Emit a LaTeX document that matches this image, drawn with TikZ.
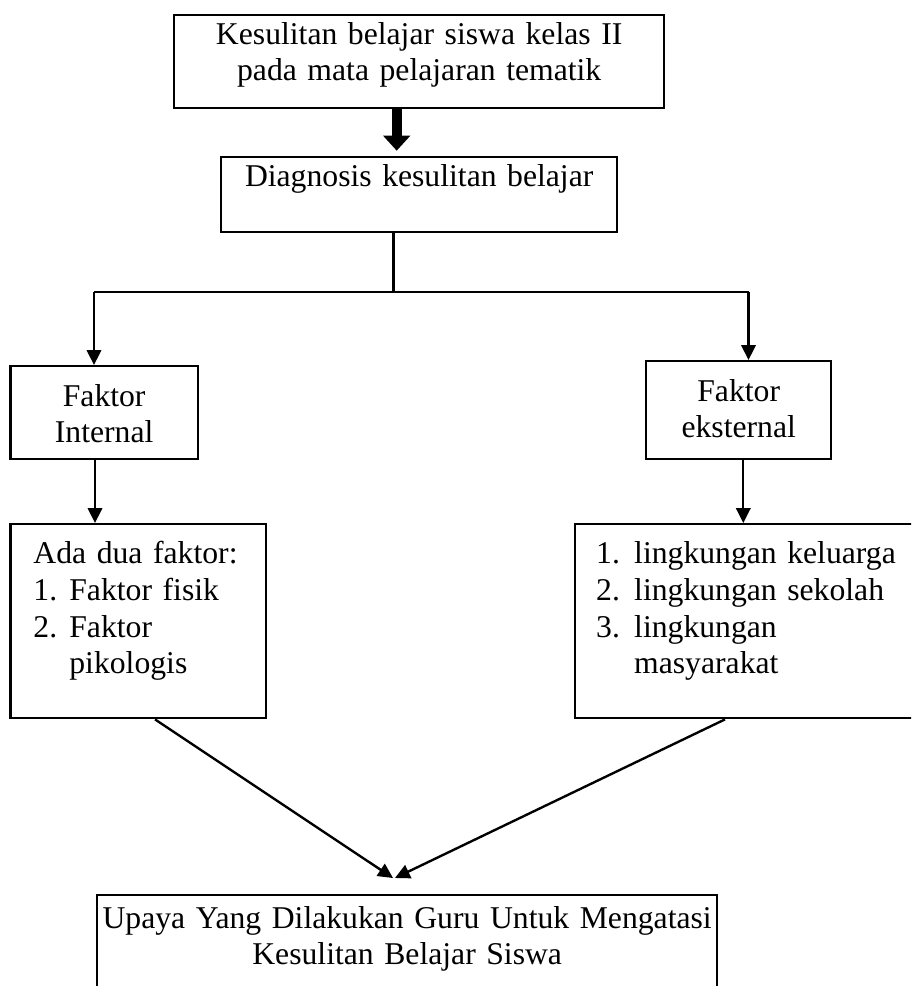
\documentclass[tikz,border=0pt]{standalone}
\usepackage{fontspec}
\setmainfont{Liberation Serif}
\usepackage{tikz}
\usetikzlibrary{arrows.meta}
\def\pxunit{0.3788pt}
\tikzstyle{arrow} = [line width=0.9pt,-{Triangle[width=5.4pt,length=5.6pt]}]
\tikzstyle{fat arrow} = [line width=3.8pt,-{Triangle[width=10pt,length=5.7pt]}]
\newcommand{\numline}[3][13.6pt]{\makebox[#1][l]{#2}#3}

\begin{document}
\begin{tikzpicture}[x=\pxunit,y=-\pxunit]
    \tikzstyle{box}=[draw,line width=0.9pt,anchor=north west,inner xsep=0pt,inner ysep=0pt,align=center,font=\fontsize{12}{13.9}\selectfont]
    \tikzstyle{list box}=[box,align=left]

    \useasboundingbox (0,0) rectangle (911,986);
    \clip (0,0) rectangle (911,986);

    % Draw the boxes
    \node[box,text width=490*\pxunit,text height=29*\pxunit,text depth=64*\pxunit] (kesulitan) at (173,14)
        {Kesulitan belajar siswa kelas II\\pada mata pelajaran tematik};
    \node[box,text width=396*\pxunit,text height=29.3*\pxunit,text depth=45.7*\pxunit] (diagnosis) at (220,155.7)
        {Diagnosis kesulitan belajar};
    \node[box,text width=187.4*\pxunit,text height=40*\pxunit,text depth=53*\pxunit] (internal) at (9.3,365)
        {Faktor\\Internal};
    \node[box,text width=185*\pxunit,text height=40*\pxunit,text depth=58*\pxunit] (eksternal) at (645,360)
        {Faktor\\eksternal};
    \node[list box,inner xsep=23*\pxunit,text width=209.7*\pxunit,text height=39.5*\pxunit,text depth=154.5*\pxunit] (listL) at (9.3,523)
        {Ada dua faktor:\\\numline{1.}{Faktor fisik}\\\numline{2.}{Faktor}\\\hspace*{13.6pt}pikologis};
    \node[list box,inner xsep=21*\pxunit,text width=328*\pxunit,text height=39.5*\pxunit,text depth=154.5*\pxunit] (listR) at (574,523)
        {\numline[14.4pt]{1.}{lingkungan keluarga}\\\numline[14.4pt]{2.}{lingkungan sekolah}\\\numline[14.4pt]{3.}{lingkungan}\\\hspace*{14.4pt}masyarakat};
    \node[box,text width=620*\pxunit,text height=33*\pxunit,text depth=200*\pxunit] (upaya) at (96,894)
        {Upaya Yang Dilakukan Guru Untuk Mengatasi\\Kesulitan Belajar Siswa};

    % Draw the connectors
    \coordinate (fat) at (396.7,0);
    \draw[fat arrow,shorten >=1.9pt] (kesulitan.south -| fat) -- (diagnosis.north -| fat);

    \coordinate (split) at (393.5,292);
    \coordinate (splitL) at (94,292);
    \coordinate (splitR) at (748.5,292);
    \draw[line width=0.9pt] (diagnosis.south -| split) -- (split);
    \draw[line width=0.9pt] (splitL) -- (splitR);
    \draw[arrow] (splitL) -- (internal.north -| splitL);
    \draw[arrow] (splitR) -- (eksternal.north -| splitR);

    \coordinate (downL) at (95,0);
    \coordinate (downR) at (743.3,0);
    \draw[arrow] (internal.south -| downL) -- (listL.north -| downL);
    \draw[arrow] (eksternal.south -| downR) -- (listR.north -| downR);

    \coordinate (fromL) at (155,0);
    \coordinate (fromR) at (725,0);
    \coordinate (tipL) at (393,878);
    \coordinate (tipR) at (395,878);
    \draw[arrow] (listL.south -| fromL) -- (tipL);
    \draw[arrow] (listR.south -| fromR) -- (tipR);
\end{tikzpicture}
\end{document}
